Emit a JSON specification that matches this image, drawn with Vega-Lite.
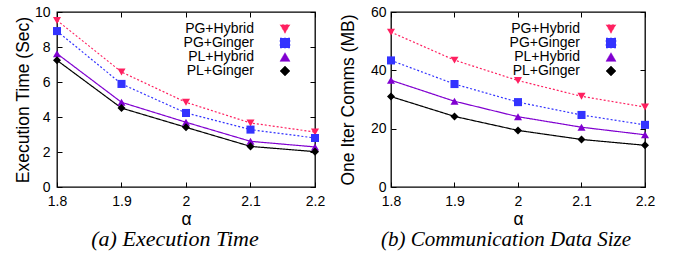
{
  "$schema": "https://vega.github.io/schema/vega-lite/v6.json",
  "autosize": {"type": "pad"},
  "padding": {"left": 13, "top": 4, "right": 0, "bottom": 0},
  "background": "white",
  "datasets": {
    "exec": [
      {"alpha": 1.8, "series": "PG+Hybrid", "value": 9.52},
      {"alpha": 1.9, "series": "PG+Hybrid", "value": 6.57},
      {"alpha": 2.0, "series": "PG+Hybrid", "value": 4.84},
      {"alpha": 2.1, "series": "PG+Hybrid", "value": 3.66},
      {"alpha": 2.2, "series": "PG+Hybrid", "value": 3.14},
      {"alpha": 1.8, "series": "PG+Ginger", "value": 8.91},
      {"alpha": 1.9, "series": "PG+Ginger", "value": 5.89},
      {"alpha": 2.0, "series": "PG+Ginger", "value": 4.23},
      {"alpha": 2.1, "series": "PG+Ginger", "value": 3.28},
      {"alpha": 2.2, "series": "PG+Ginger", "value": 2.8},
      {"alpha": 1.8, "series": "PL+Hybrid", "value": 7.62},
      {"alpha": 1.9, "series": "PL+Hybrid", "value": 4.84},
      {"alpha": 2.0, "series": "PL+Hybrid", "value": 3.7},
      {"alpha": 2.1, "series": "PL+Hybrid", "value": 2.61},
      {"alpha": 2.2, "series": "PL+Hybrid", "value": 2.29},
      {"alpha": 1.8, "series": "PL+Ginger", "value": 7.24},
      {"alpha": 1.9, "series": "PL+Ginger", "value": 4.51},
      {"alpha": 2.0, "series": "PL+Ginger", "value": 3.41},
      {"alpha": 2.1, "series": "PL+Ginger", "value": 2.32},
      {"alpha": 2.2, "series": "PL+Ginger", "value": 2.02}
    ],
    "comm": [
      {"alpha": 1.8, "series": "PG+Hybrid", "value": 53.1},
      {"alpha": 1.9, "series": "PG+Hybrid", "value": 43.5},
      {"alpha": 2.0, "series": "PG+Hybrid", "value": 36.5},
      {"alpha": 2.1, "series": "PG+Hybrid", "value": 31.1},
      {"alpha": 2.2, "series": "PG+Hybrid", "value": 27.4},
      {"alpha": 1.8, "series": "PG+Ginger", "value": 43.4},
      {"alpha": 1.9, "series": "PG+Ginger", "value": 35.3},
      {"alpha": 2.0, "series": "PG+Ginger", "value": 29.1},
      {"alpha": 2.1, "series": "PG+Ginger", "value": 24.7},
      {"alpha": 2.2, "series": "PG+Ginger", "value": 21.3},
      {"alpha": 1.8, "series": "PL+Hybrid", "value": 36.6},
      {"alpha": 1.9, "series": "PL+Hybrid", "value": 29.4},
      {"alpha": 2.0, "series": "PL+Hybrid", "value": 24.1},
      {"alpha": 2.1, "series": "PL+Hybrid", "value": 20.5},
      {"alpha": 2.2, "series": "PL+Hybrid", "value": 17.9},
      {"alpha": 1.8, "series": "PL+Ginger", "value": 31.0},
      {"alpha": 1.9, "series": "PL+Ginger", "value": 24.2},
      {"alpha": 2.0, "series": "PL+Ginger", "value": 19.4},
      {"alpha": 2.1, "series": "PL+Ginger", "value": 16.3},
      {"alpha": 2.2, "series": "PL+Ginger", "value": 14.3}
    ]
  },
  "config": {
    "font": "Liberation Sans",
    "view": {"stroke": "#000000", "strokeWidth": 1.3},
    "axis": {
      "domain": false,
      "grid": false,
      "ticks": true,
      "tickColor": "#000000",
      "tickSize": 5,
      "tickWidth": 1,
      "offset": -5,
      "labelFlush": false,
      "labelOverlap": false,
      "labelColor": "#000000",
      "labelFont": "Liberation Sans",
      "labelFontSize": 14,
      "titleColor": "#000000",
      "titleFont": "Liberation Sans",
      "titleFontSize": 17.5,
      "titleFontWeight": "normal"
    },
    "title": {
      "font": "Liberation Serif",
      "fontStyle": "italic",
      "fontWeight": "normal",
      "fontSize": 21,
      "color": "#000000",
      "orient": "bottom"
    },
    "legend": {
      "orient": "none",
      "labelFont": "Liberation Sans",
      "labelFontSize": 14,
      "labelColor": "#000000",
      "labelAlign": "right",
      "labelOffset": -38,
      "symbolOffset": 20,
      "symbolSize": 100,
      "rowPadding": -1,
      "padding": 0,
      "title": null
    }
  },
  "hconcat": [
    {
      "width": 258,
      "height": 175,
      "data": {"name": "exec"},
      "title": {"text": "(a) Execution Time", "offset": 1, "dx": -11, "fontSize": 22},
      "encoding": {
        "color": {"field": "series", "type": "nominal",
          "scale": {"domain": ["PG+Hybrid", "PG+Ginger", "PL+Hybrid", "PL+Ginger"], "range": ["#ff2060", "#3333ff", "#8000d0", "#000000"]},
          "legend": {"legendX": 201, "legendY": 10,
            "encode": {"symbols": {"update": {
              "shape": {"value": {"expr": "datum.value==='PG+Hybrid' ? 'M-2.8,-0.12h0.4v0.24h-0.4ZM-2,-0.12h0.4v0.24h-0.4ZM-1.2,-0.12h0.4v0.24h-0.4ZM0.8,-0.12h0.4v0.24h-0.4ZM1.6,-0.12h0.4v0.24h-0.4ZM2.4,-0.12h0.4v0.24h-0.4ZM-0.8,-0.6L0.8,-0.6L0,0.75Z' : datum.value==='PG+Ginger' ? 'M-2.8,-0.12h0.4v0.24h-0.4ZM-2,-0.12h0.4v0.24h-0.4ZM-1.2,-0.12h0.4v0.24h-0.4ZM0.8,-0.12h0.4v0.24h-0.4ZM1.6,-0.12h0.4v0.24h-0.4ZM2.4,-0.12h0.4v0.24h-0.4ZM-0.75,-0.75H0.75V0.75H-0.75Z' : datum.value==='PL+Hybrid' ? 'M-2.8,-0.12H2.8V0.12H-2.8ZM-0.8,0.6L0.8,0.6L0,-0.75Z' : 'M-2.8,-0.12H2.8V0.12H-2.8ZM0,-0.85L0.85,0L0,0.85L-0.85,0Z'"}},
              "stroke": {"value": {"expr": "datum.value==='PG+Hybrid' ? '#ff2060' : datum.value==='PG+Ginger' ? '#3333ff' : datum.value==='PL+Hybrid' ? '#8000d0' : '#000000'"}},
              "strokeWidth": {"value": 0.5},
              "opacity": {"value": 1}
            }}}}}
      },
      "layer": [
        {
          "mark": {"type": "line", "strokeWidth": 1.2},
          "encoding": {
            "x": {"field": "alpha", "type": "quantitative",
              "scale": {"domain": [1.8, 2.2], "nice": false, "zero": false},
              "axis": {"orient": "bottom", "values": [1.8, 1.9, 2.0, 2.1, 2.2], "format": "~g", "title": "α", "labelPadding": 7, "titlePadding": 2}},
            "y": {"field": "value", "type": "quantitative",
              "scale": {"domain": [0, 10], "nice": false},
              "axis": {"orient": "left", "values": [0, 2, 4, 6, 8, 10], "title": "Execution Time (Sec)", "labelPadding": 7, "titlePadding": 2}},
            "strokeDash": {"field": "series", "type": "nominal", "legend": null,
              "scale": {"domain": ["PG+Hybrid", "PG+Ginger", "PL+Hybrid", "PL+Ginger"], "range": [[2, 2], [2, 2], [1, 0], [1, 0]]}}
          }
        },
        {
          "mark": {"type": "point", "filled": true, "size": 65, "opacity": 1},
          "encoding": {
            "x": {"field": "alpha", "type": "quantitative",
              "axis": {"orient": "top", "values": [1.8, 1.9, 2.0, 2.1, 2.2], "labels": false, "title": null}},
            "y": {"field": "value", "type": "quantitative",
              "axis": {"orient": "right", "values": [0, 2, 4, 6, 8, 10], "labels": false, "title": null}},
            "shape": {"field": "series", "type": "nominal", "legend": null,
              "scale": {"domain": ["PG+Hybrid", "PG+Ginger", "PL+Hybrid", "PL+Ginger"], "range": ["triangle-down", "square", "triangle-up", "diamond"]}}
          }
        }
      ],
      "resolve": {"axis": {"x": "independent", "y": "independent"}}
    },
    {
      "width": 254,
      "height": 175,
      "data": {"name": "comm"},
      "title": {"text": "(b) Communication Data Size", "offset": 1, "dx": -12},
      "encoding": {
        "color": {"field": "series", "type": "nominal",
          "scale": {"domain": ["PG+Hybrid", "PG+Ginger", "PL+Hybrid", "PL+Ginger"], "range": ["#ff2060", "#3333ff", "#8000d0", "#000000"]},
          "legend": {"legendX": 193, "legendY": 10,
            "encode": {"symbols": {"update": {
              "shape": {"value": {"expr": "datum.value==='PG+Hybrid' ? 'M-2.8,-0.12h0.4v0.24h-0.4ZM-2,-0.12h0.4v0.24h-0.4ZM-1.2,-0.12h0.4v0.24h-0.4ZM0.8,-0.12h0.4v0.24h-0.4ZM1.6,-0.12h0.4v0.24h-0.4ZM2.4,-0.12h0.4v0.24h-0.4ZM-0.8,-0.6L0.8,-0.6L0,0.75Z' : datum.value==='PG+Ginger' ? 'M-2.8,-0.12h0.4v0.24h-0.4ZM-2,-0.12h0.4v0.24h-0.4ZM-1.2,-0.12h0.4v0.24h-0.4ZM0.8,-0.12h0.4v0.24h-0.4ZM1.6,-0.12h0.4v0.24h-0.4ZM2.4,-0.12h0.4v0.24h-0.4ZM-0.75,-0.75H0.75V0.75H-0.75Z' : datum.value==='PL+Hybrid' ? 'M-2.8,-0.12H2.8V0.12H-2.8ZM-0.8,0.6L0.8,0.6L0,-0.75Z' : 'M-2.8,-0.12H2.8V0.12H-2.8ZM0,-0.85L0.85,0L0,0.85L-0.85,0Z'"}},
              "stroke": {"value": {"expr": "datum.value==='PG+Hybrid' ? '#ff2060' : datum.value==='PG+Ginger' ? '#3333ff' : datum.value==='PL+Hybrid' ? '#8000d0' : '#000000'"}},
              "strokeWidth": {"value": 0.5},
              "opacity": {"value": 1}
            }}}}}
      },
      "layer": [
        {
          "mark": {"type": "line", "strokeWidth": 1.2},
          "encoding": {
            "x": {"field": "alpha", "type": "quantitative",
              "scale": {"domain": [1.8, 2.2], "nice": false, "zero": false},
              "axis": {"orient": "bottom", "values": [1.8, 1.9, 2.0, 2.1, 2.2], "format": "~g", "title": "α", "labelPadding": 7, "titlePadding": 2}},
            "y": {"field": "value", "type": "quantitative",
              "scale": {"domain": [0, 60], "nice": false},
              "axis": {"orient": "left", "values": [0, 20, 40, 60], "title": "One Iter Comms (MB)", "labelPadding": 5, "titlePadding": 13}},
            "strokeDash": {"field": "series", "type": "nominal", "legend": null,
              "scale": {"domain": ["PG+Hybrid", "PG+Ginger", "PL+Hybrid", "PL+Ginger"], "range": [[2, 2], [2, 2], [1, 0], [1, 0]]}}
          }
        },
        {
          "mark": {"type": "point", "filled": true, "size": 65, "opacity": 1},
          "encoding": {
            "x": {"field": "alpha", "type": "quantitative",
              "axis": {"orient": "top", "values": [1.8, 1.9, 2.0, 2.1, 2.2], "labels": false, "title": null}},
            "y": {"field": "value", "type": "quantitative",
              "axis": {"orient": "right", "values": [0, 20, 40, 60], "labels": false, "title": null}},
            "shape": {"field": "series", "type": "nominal", "legend": null,
              "scale": {"domain": ["PG+Hybrid", "PG+Ginger", "PL+Hybrid", "PL+Ginger"], "range": ["triangle-down", "square", "triangle-up", "diamond"]}}
          }
        }
      ],
      "resolve": {"axis": {"x": "independent", "y": "independent"}}
    }
  ],
  "spacing": 76,
  "bounds": "flush",
  "resolve": {"scale": {"y": "independent", "color": "independent", "shape": "independent", "strokeDash": "independent"}, "legend": {"color": "independent", "shape": "independent"}}
}
